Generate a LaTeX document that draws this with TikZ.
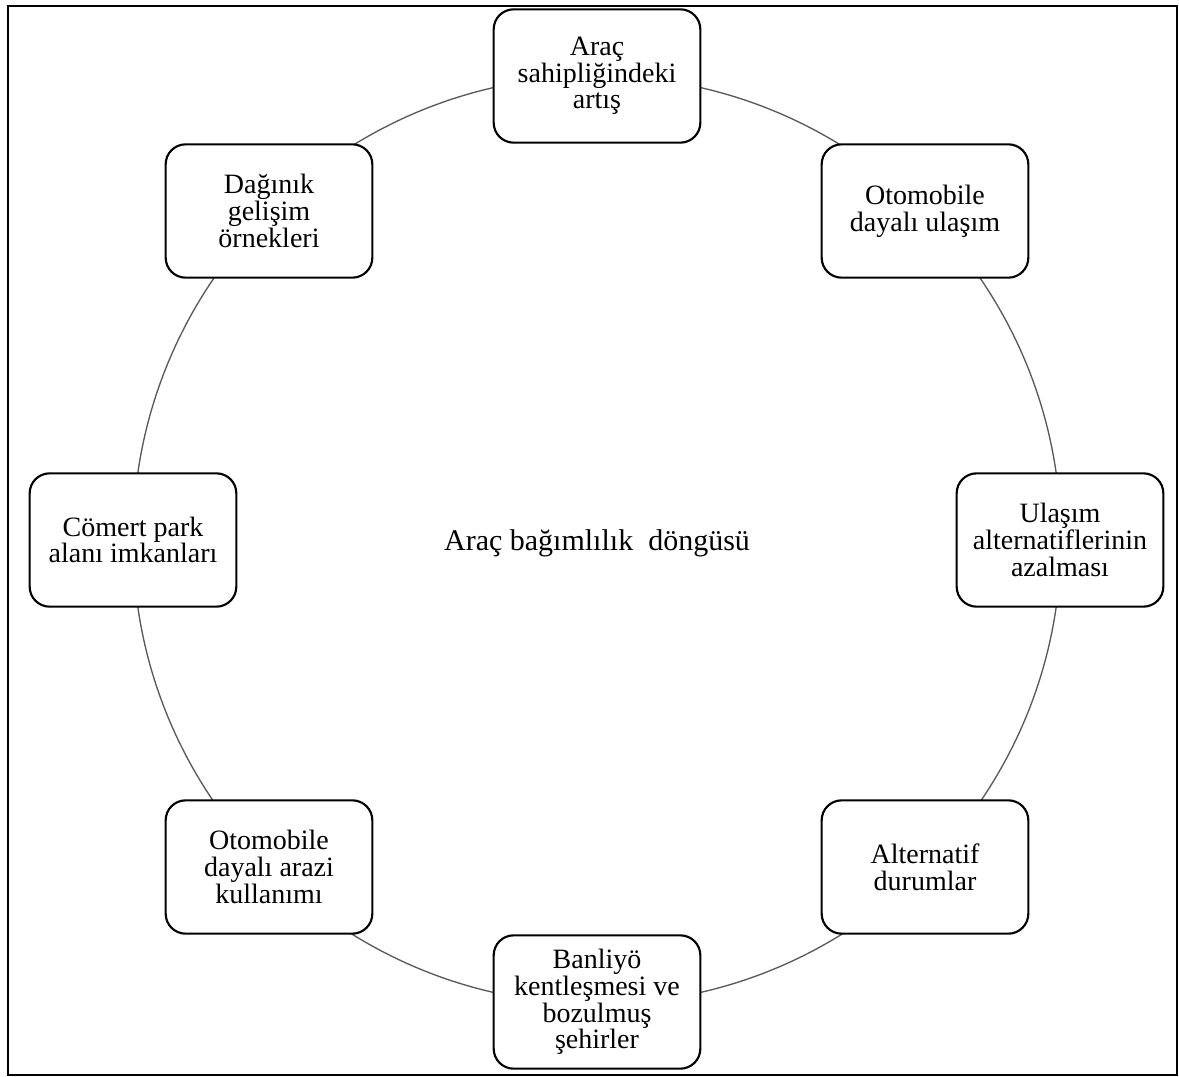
\documentclass[tikz,border=0pt]{standalone}
\usepackage{fontspec}
\setmainfont{Liberation Serif}
\begin{document}
\begin{tikzpicture}[x=0.75pt,y=-0.75pt,
  cyclebox/.style={draw=black, line width=1.6pt, fill=white, rounded corners=15pt,
    minimum width=155pt, minimum height=100pt, inner sep=0pt, align=center,
    font=\fontsize{21}{20}\selectfont},
  ring/.style={draw=black!65, line width=1pt},
  frame/.style={draw=black, line width=1.5pt}]
\useasboundingbox (0,0) rectangle (1179,1077);
\draw[frame] (8,6) rectangle (1177,1075);
\coordinate (ctr) at (597,540);
\draw[ring] (ctr) circle (348pt);
\node[cyclebox] (n1) at (597,76) {Araç\\sahipliğindeki\\artış};
\node[cyclebox] (n2) at (925,211) {Otomobile\\dayalı ulaşım};
\node[cyclebox] (n3) at (1060,540) {Ulaşım\\alternatiflerinin\\azalması};
\node[cyclebox] (n4) at (925,867) {Alternatif\\durumlar};
\node[cyclebox] (n5) at (597,1002) {Banliyö\\kentleşmesi ve\\bozulmuş\\şehirler};
\node[cyclebox] (n6) at (269,867) {Otomobile\\dayalı arazi\\kullanımı};
\node[cyclebox] (n7) at (133,540) {Cömert park\\alanı imkanları};
\node[cyclebox] (n8) at (269,211) {Dağınık\\gelişim\\örnekleri};
\node[font=\fontsize{22.5}{24}\selectfont] (title) at (597,543) {Araç bağımlılık\ \ döngüsü};
\end{tikzpicture}
\end{document}
